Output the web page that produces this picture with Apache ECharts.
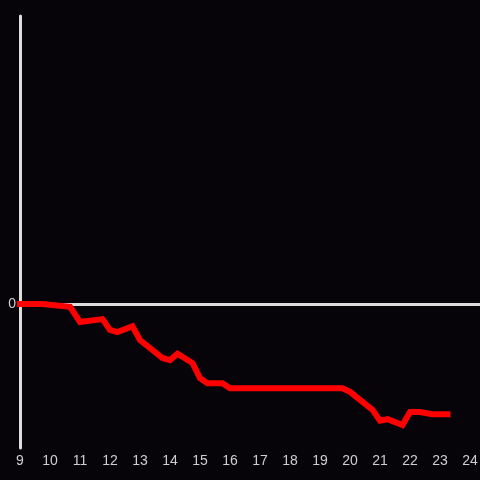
<!DOCTYPE html>
<html>
<head>
<meta charset="utf-8">
<script src="https://cdn.jsdelivr.net/npm/echarts@6/dist/echarts.min.js"></script>
<style>
  html, body { margin: 0; padding: 0; background: #060409; }
  #chart { width: 480px; height: 480px; }
</style>
</head>
<body>
<div id="chart"></div>
<script>
// hours of day
var hours = [9, 9.75, 10.67, 11, 11.75, 12, 12.25, 12.75, 13, 13.75, 14, 14.25, 14.75,
  15, 15.25, 15.75, 16, 19.75, 20, 20.75, 21, 21.25, 21.75, 22, 22.33, 22.75, 23.25];
var values = [0, 0, -0.02, -0.125, -0.105, -0.18, -0.195, -0.155, -0.25, -0.375, -0.39, -0.345, -0.41,
  -0.515, -0.55, -0.55, -0.585, -0.585, -0.61, -0.735, -0.81, -0.8, -0.84, -0.75, -0.75, -0.765, -0.765];

var points = [];
for (var i = 0; i < hours.length; i++) {
  points.push([hours[i], values[i]]);
}

var axisColor = "#dcdcdc";
var labelColor = "#cfcfcf";

var chart = echarts.init(document.getElementById("chart"));
chart.setOption({
  backgroundColor: "#060409",
  animation: false,
  grid: { left: 20, right: 0, top: 16, bottom: 32, containLabel: false, outerBoundsMode: "none" },
  xAxis: [
    {
      // labels along the bottom
      type: "value",
      min: 9,
      max: 24.333,
      interval: 1,
      position: "bottom",
      axisLine: { show: false, onZero: false },
      axisTick: { show: false },
      splitLine: { show: false },
      axisLabel: {
        color: labelColor,
        fontSize: 14,
        fontFamily: "Liberation Sans",
        margin: 6,
        formatter: function (v) {
          return Number.isInteger(v) ? String(v) : "";
        },
      },
    },
    {
      // zero line
      type: "value",
      min: 9,
      max: 24.333,
      interval: 1,
      axisLine: { show: true, onZero: true, lineStyle: { color: axisColor, width: 3 } },
      axisTick: { show: false },
      splitLine: { show: false },
      axisLabel: { show: false },
    },
  ],
  yAxis: {
    type: "value",
    min: -1,
    max: 2,
    interval: 1,
    axisLine: { show: true, onZero: false, lineStyle: { color: axisColor, width: 3 } },
    axisTick: { show: false },
    splitLine: { show: false },
    axisLabel: {
      color: labelColor,
      fontSize: 14,
      fontFamily: "Liberation Sans",
      margin: 4,
      formatter: function (v) {
        return v === 0 ? "0" : "";
      },
    },
  },
  series: [
    {
      type: "line",
      xAxisIndex: 0,
      data: points,
      symbol: "none",
      z: 5,
      lineStyle: { color: "#ff0000", width: 6, cap: "square", join: "miter" },
    },
  ],
});
</script>
</body>
</html>
